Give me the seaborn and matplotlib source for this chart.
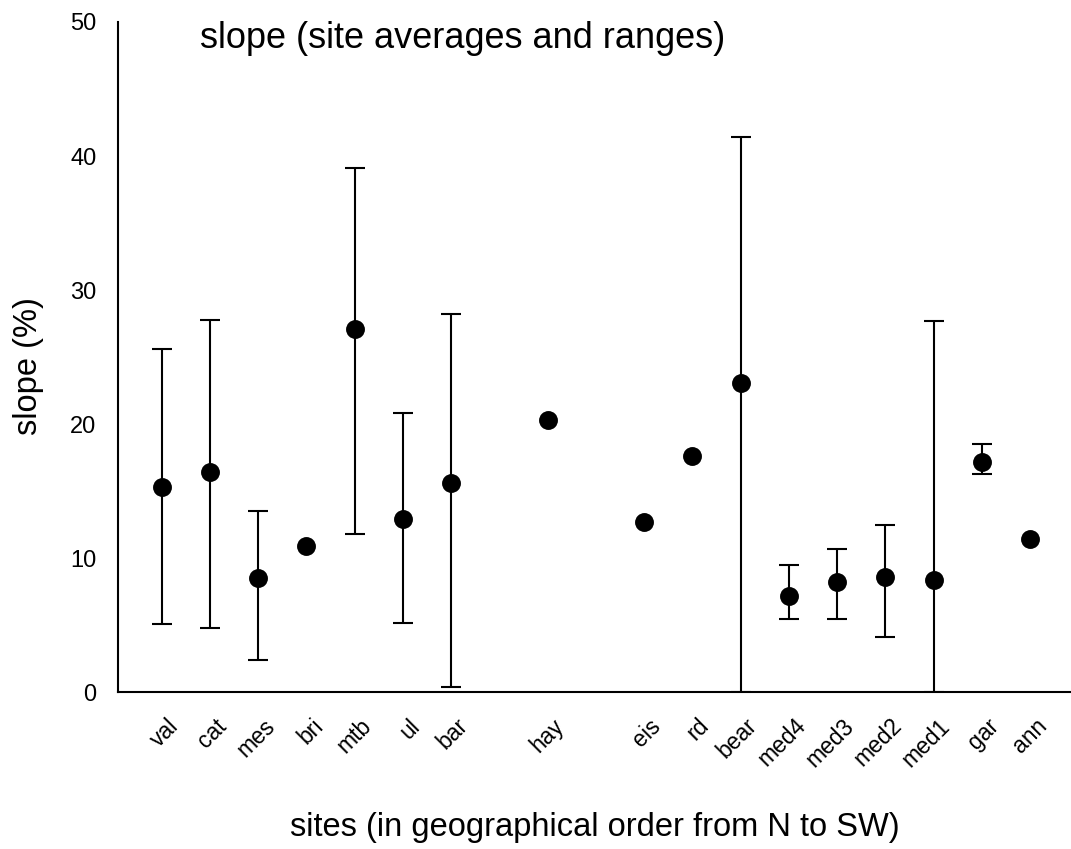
import numpy as np
import pandas as pd
import matplotlib
matplotlib.use("Agg")
import matplotlib.pyplot as plt
import matplotlib.transforms as mtransforms
import seaborn as sns

# ---- data ----
sites = ["val", "cat", "mes", "bri", "mtb", "ul", "bar", "hay", "eis", "rd",
         "bear", "med4", "med3", "med2", "med1", "gar", "ann"]
# slot along the N->SW axis (empty slots after "bar" and after "hay")
site_slot = [0, 1, 2, 3, 4, 5, 6, 8, 10, 11, 12, 13, 14, 15, 16, 17, 18]
slope_mean = [15.3, 16.4, 8.5, 10.9, 27.1, 12.9, 15.6, 20.3, 12.7, 17.6,
              23.1, 7.2, 8.2, 8.6, 8.4, 17.2, 11.4]
slope_min = [5.1, 4.8, 2.4, np.nan, 11.8, 5.2, 0.4, np.nan, np.nan, np.nan,
             0.0, 5.5, 5.5, 4.15, 0.0, 16.3, np.nan]
slope_max = [25.6, 27.8, 13.5, np.nan, 39.1, 20.8, 28.2, np.nan, np.nan, np.nan,
             41.4, 9.5, 10.7, 12.5, 27.7, 18.5, np.nan]
y_ticks = [0, 10, 20, 30, 40, 50]

title = "slope (site averages and ranges)"
x_label = "sites (in geographical order from N to SW)"
y_label = "slope (%)"

df = pd.DataFrame({"site": sites, "slot": site_slot, "mean": slope_mean,
                   "lo": slope_min, "hi": slope_max})

sns.set_theme(style="white", rc={
    "axes.edgecolor": "black", "text.color": "black", "axes.labelcolor": "black",
    "xtick.color": "black", "ytick.color": "black"})
plt.rcParams["font.family"] = ["Liberation Sans", "DejaVu Sans"]

W, H = 1071, 849
fig = plt.figure(figsize=(W / 100, H / 100), dpi=100)
ax_left, ax_right, ax_top, ax_bottom = 118, 1071, 22, 692.3
ax = fig.add_axes([ax_left / W, 1 - ax_bottom / H,
                   (ax_right - ax_left) / W, (ax_bottom - ax_top) / H])

rng = df.dropna(subset=["lo", "hi"])
ax.errorbar(rng["slot"], rng["mean"],
            yerr=[rng["mean"] - rng["lo"], rng["hi"] - rng["mean"]],
            fmt="none", ecolor="black", elinewidth=1.5, capsize=7.4,
            capthick=1.5, zorder=3)
sns.scatterplot(data=df, x="slot", y="mean", color="black", s=185,
                marker="o", linewidth=0, zorder=4, ax=ax, legend=False)

ax.set_xlim(-0.906, 18.85)
ax.set_ylim(0, 50)
ax.set_yticks(y_ticks)
ax.set_xticks(df["slot"], df["site"])

for s in ["top", "right"]:
    ax.spines[s].set_visible(False)
for s in ["left", "bottom"]:
    ax.spines[s].set_linewidth(1.5)
    ax.spines[s].set_color("black")

ax.tick_params(axis="y", direction="out", length=7.5, width=1.5,
               labelsize=17, pad=8, color="black")
ax.tick_params(axis="x", direction="inout", length=8, width=1.2,
               color="white", labelsize=16.5, pad=11.8, labelrotation=45)
offset = mtransforms.ScaledTranslation(5 / 100, 0, fig.dpi_scale_trans)
for lab in ax.get_xticklabels():
    lab.set_ha("right")
    lab.set_va("top")
    lab.set_rotation_mode("anchor")
    lab.set_transform(lab.get_transform() + offset)

ax.set_xlabel(x_label, fontsize=23.5)
ax.set_ylabel(y_label, fontsize=23.5)
ax.xaxis.set_label_coords(0.5, (ax_bottom - 812) / (ax_bottom - ax_top))
ax.yaxis.set_label_coords((43.5 - ax_left) / (ax_right - ax_left),
                          (ax_bottom - 366) / (ax_bottom - ax_top))

ax.text((200 - ax_left) / (ax_right - ax_left),
        (ax_bottom - 48.5) / (ax_bottom - ax_top), title,
        transform=ax.transAxes, fontsize=26, ha="left", va="baseline")

fig.savefig("out.png", dpi=100)
